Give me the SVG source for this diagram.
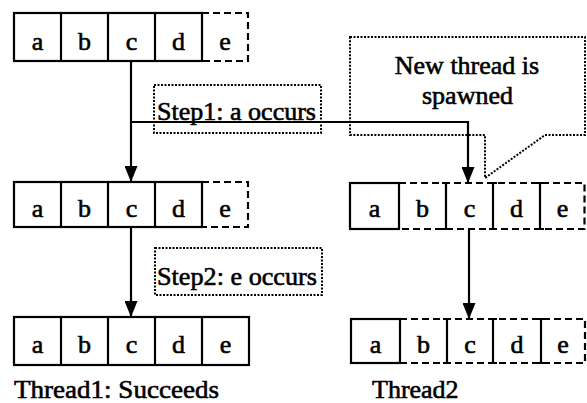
<svg xmlns="http://www.w3.org/2000/svg" width="587" height="403" viewBox="0 0 587 403">
<style>
text{font-family:"Liberation Serif","Times New Roman",serif;font-size:26px;fill:#000;stroke:#000;stroke-width:0.6}
.cl{text-anchor:middle}
.solid{fill:none;stroke:#000;stroke-width:2.2}
.dash{fill:none;stroke:#000;stroke-width:2.2;stroke-dasharray:7 4}
.dot{fill:none;stroke:#000;stroke-width:2;stroke-dasharray:2 1.5}
.conn{fill:none;stroke:#000;stroke-width:2.2}
</style>
<defs>
<marker id="arr" viewBox="0 0 16 13" refX="16" refY="6.5" markerWidth="16" markerHeight="13" markerUnits="userSpaceOnUse" orient="auto">
<path d="M0,0 L16,6.5 L0,13 Z" fill="#000"/>
</marker>
</defs>
<rect width="587" height="403" fill="#fff"/>

<g id="t1row1">
<rect class="solid" x="14" y="13" width="188" height="48"/>
<path class="solid" d="M61,13V61M108,13V61M155,13V61"/>
<path class="dash" d="M202,13H248V61H202"/>
<text class="cl" x="37.5" y="50">a</text>
<text class="cl" x="84.5" y="50">b</text>
<text class="cl" x="131.5" y="50">c</text>
<text class="cl" x="178.5" y="50">d</text>
<text class="cl" x="225" y="50">e</text>
</g>

<g id="t1row2">
<rect class="solid" x="14" y="182" width="188" height="45"/>
<path class="solid" d="M61,182V227M108,182V227M155,182V227"/>
<path class="dash" d="M202,182H248V227H202"/>
<text class="cl" x="37.5" y="217">a</text>
<text class="cl" x="84.5" y="217">b</text>
<text class="cl" x="131.5" y="217">c</text>
<text class="cl" x="178.5" y="217">d</text>
<text class="cl" x="225" y="217">e</text>
</g>

<g id="t1row3">
<rect class="solid" x="14" y="317" width="235" height="48"/>
<path class="solid" d="M61,317V365M108,317V365M155,317V365M202,317V365"/>
<text class="cl" x="37.5" y="353">a</text>
<text class="cl" x="84.5" y="353">b</text>
<text class="cl" x="131.5" y="353">c</text>
<text class="cl" x="178.5" y="353">d</text>
<text class="cl" x="225.5" y="353">e</text>
</g>

<g id="t2row2">
<rect class="solid" x="350" y="183" width="49" height="46"/>
<path class="dash" d="M399,183H584.5V229H399"/>
<path class="solid" d="M446,183V229M493,183V229M540,183V229M442,183H450M489,183H497M536,183H544M442,229H450M489,229H497M536,229H544"/>
<text class="cl" x="374.5" y="217">a</text>
<text class="cl" x="422.5" y="217">b</text>
<text class="cl" x="469.5" y="217">c</text>
<text class="cl" x="516.5" y="217">d</text>
<text class="cl" x="562.5" y="217">e</text>
</g>

<g id="t2row3">
<rect class="solid" x="351" y="319" width="49" height="44"/>
<path class="dash" d="M400,319H585V363H400"/>
<path class="solid" d="M447,319V363M493,319V363M541,319V363M443,319H451M489,319H497M537,319H545M443,363H451M489,363H497M537,363H545"/>
<text class="cl" x="375.5" y="353">a</text>
<text class="cl" x="423.5" y="353">b</text>
<text class="cl" x="470" y="353">c</text>
<text class="cl" x="517" y="353">d</text>
<text class="cl" x="563" y="353">e</text>
</g>

<g id="step1">
<rect class="dot" x="154" y="85" width="167" height="48"/>
<text x="157" y="120" textLength="159" lengthAdjust="spacingAndGlyphs">Step1: a occurs</text>
</g>

<g id="step2">
<rect class="dot" x="155" y="248" width="167" height="47"/>
<text x="157" y="285" textLength="160" lengthAdjust="spacingAndGlyphs">Step2: e occurs</text>
</g>

<g id="callout">
<path class="dot" d="M350,37H585V135H545L485,178V135H350Z"/>
<text class="cl" x="467" y="74">New thread is</text>
<text class="cl" x="467.5" y="104">spawned</text>
</g>

<g id="labels">
<text x="14" y="398" textLength="205" lengthAdjust="spacingAndGlyphs">Thread1: Succeeds</text>
<text x="372" y="398">Thread2</text>
</g>

<g id="connectors">
<path class="conn" d="M131,61V182" marker-end="url(#arr)"/>
<path class="conn" d="M131,122H468V183" marker-end="url(#arr)"/>
<path class="conn" d="M131,227V317" marker-end="url(#arr)"/>
<path class="conn" d="M469,229V319" marker-end="url(#arr)"/>
</g>
</svg>
